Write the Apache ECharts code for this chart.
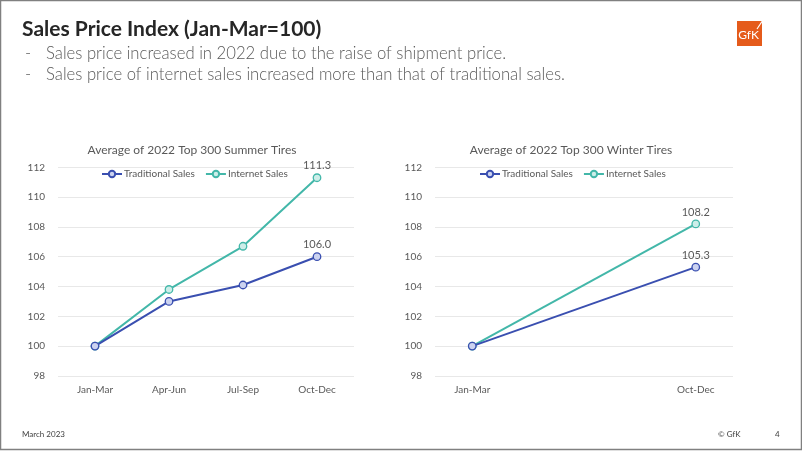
<!DOCTYPE html>
<html>
<head>
<meta charset="utf-8">
<script src="https://cdn.jsdelivr.net/npm/echarts@6/dist/echarts.min.js"></script>
<style>
html,body{margin:0;padding:0;background:#fff;}
#c{width:802px;height:451px;}
</style>
</head>
<body>
<div id="c"></div>
<script>
// ---- data ----
const summerCategories = ['Jan-Mar', 'Apr-Jun', 'Jul-Sep', 'Oct-Dec'];
const summerTraditional = [100, 103.0, 104.1, 106.0];
const summerInternet = [100, 103.8, 106.7, 111.3];

const winterCategories = ['Jan-Mar', '', '', 'Oct-Dec'];
const winterTraditional = [100, null, null, 105.3];
const winterInternet = [100, null, null, 108.2];

const yTicks = [98, 100, 102, 104, 106, 108, 110, 112];
const seriesNames = ['Traditional Sales', 'Internet Sales'];

const mainTitle = 'Sales Price Index (Jan-Mar=100)';
const bullets = [
  'Sales price increased in 2022 due to the raise of shipment price.',
  'Sales price of internet sales increased more than that of traditional sales.'
];
const chartTitles = ['Average of 2022 Top 300 Summer Tires', 'Average of 2022 Top 300 Winter Tires'];

// ---- styles ----
const FONT = 'Lato, "Noto Sans", sans-serif';
const BLUE = '#3a4fb0';
const BLUE_FILL = '#ccd3f0';
const TEAL = '#43b7a9';
const TEAL_FILL = '#cdeee9';
const GRAY = '#595959';

function withLastLabel(arr) {
  const last = arr.length - 1;
  return arr.map((v, i) => i === last ? {
    value: v,
    label: { show: true, position: 'top', distance: 2, formatter: p => Number(p.value).toFixed(1), color: GRAY, fontSize: 11, fontFamily: FONT }
  } : v);
}

function mkSeries(name, data, gi, line, fill) {
  return {
    name: name, type: 'line', xAxisIndex: gi, yAxisIndex: gi,
    data: withLastLabel(data), connectNulls: true,
    symbol: 'circle', symbolSize: 7.5,
    lineStyle: { color: line, width: 2 },
    itemStyle: { color: fill, borderColor: line, borderWidth: 1.3 },
    emphasis: { disabled: true },
    z: name === 'Traditional Sales' ? 3 : 2
  };
}

function yAxis(gi) {
  return {
    gridIndex: gi, type: 'value', min: yTicks[0], max: yTicks[yTicks.length - 1], interval: 2,
    axisLine: { show: false }, axisTick: { show: false },
    axisLabel: { color: GRAY, fontSize: 10, fontFamily: FONT, margin: 13 },
    splitLine: { lineStyle: { color: '#e8e8e8', width: 1 } }
  };
}
function xAxis(gi, cats) {
  return {
    gridIndex: gi, type: 'category', data: cats, boundaryGap: true,
    axisLine: { show: false }, axisTick: { show: false },
    axisLabel: { color: GRAY, fontSize: 10, fontFamily: FONT, margin: 9, interval: 0 }
  };
}
function legend(leftX) {
  return {
    data: seriesNames, top: 164, left: leftX,
    itemWidth: 20, itemHeight: 8, itemGap: 10,
    textStyle: { color: GRAY, fontSize: 10, fontFamily: FONT, padding: [0, 0, 0, -3] },
    selectedMode: false
  };
}

const chart = echarts.init(document.getElementById('c'), null, { renderer: 'canvas' });
chart.setOption({
  backgroundColor: '#fff',
  animation: false,
  grid: [
    { left: 58, top: 167.3, width: 296, height: 208.6 },
    { left: 435, top: 167.3, width: 298, height: 208.6 }
  ],
  xAxis: [xAxis(0, summerCategories), xAxis(1, winterCategories)],
  yAxis: [yAxis(0), yAxis(1)],
  legend: [legend(96), legend(474)],
  series: [
    mkSeries(seriesNames[0], summerTraditional, 0, BLUE, BLUE_FILL),
    mkSeries(seriesNames[1], summerInternet, 0, TEAL, TEAL_FILL),
    mkSeries(seriesNames[0], winterTraditional, 1, BLUE, BLUE_FILL),
    mkSeries(seriesNames[1], winterInternet, 1, TEAL, TEAL_FILL)
  ],
  graphic: [
    { type: 'rect', shape: { x: 0.5, y: 0.5, width: 801, height: 449 }, style: { fill: 'none', stroke: '#808080', lineWidth: 1.5 }, silent: true },
    { type: 'text', x: 22, y: 29, style: { text: mainTitle, font: 'bold 21px ' + FONT, fill: '#262626', textVerticalAlign: 'middle' } },
    { type: 'text', x: 25, y: 54, style: { text: '-', font: '300 16.7px ' + FONT, fill: GRAY, textVerticalAlign: 'middle' } },
    { type: 'text', x: 46, y: 54, style: { text: bullets[0], font: '300 16.7px ' + FONT, fill: GRAY, textVerticalAlign: 'middle' } },
    { type: 'text', x: 25, y: 75, style: { text: '-', font: '300 16.7px ' + FONT, fill: GRAY, textVerticalAlign: 'middle' } },
    { type: 'text', x: 46, y: 75, style: { text: bullets[1], font: '300 16.7px ' + FONT, fill: GRAY, textVerticalAlign: 'middle' } },
    { type: 'text', x: 192, y: 150, style: { text: chartTitles[0], font: '12px ' + FONT, fill: GRAY, textAlign: 'center', textVerticalAlign: 'middle' } },
    { type: 'text', x: 571, y: 150, style: { text: chartTitles[1], font: '12px ' + FONT, fill: GRAY, textAlign: 'center', textVerticalAlign: 'middle' } },
    // logo
    { type: 'rect', shape: { x: 737, y: 21, width: 25, height: 25 }, style: { fill: '#e55b1b' }, silent: true },
    { type: 'text', x: 748.5, y: 35, style: { text: 'GfK', font: '12px ' + FONT, fill: '#fff', textAlign: 'center', textVerticalAlign: 'middle' } },
    { type: 'line', shape: { x1: 757, y1: 29, x2: 765, y2: 17 }, style: { stroke: '#fff', lineWidth: 1.2 } },
    // footer
    { type: 'text', x: 22, y: 434, style: { text: 'March 2023', font: '8px ' + FONT, fill: '#404040', textVerticalAlign: 'middle' } },
    { type: 'text', x: 718, y: 434, style: { text: '© GfK', font: '8px ' + FONT, fill: '#404040', textVerticalAlign: 'middle' } },
    { type: 'text', x: 775, y: 434, style: { text: '4', font: '8px ' + FONT, fill: '#404040', textVerticalAlign: 'middle' } }
  ]
});
</script>
</body>
</html>
